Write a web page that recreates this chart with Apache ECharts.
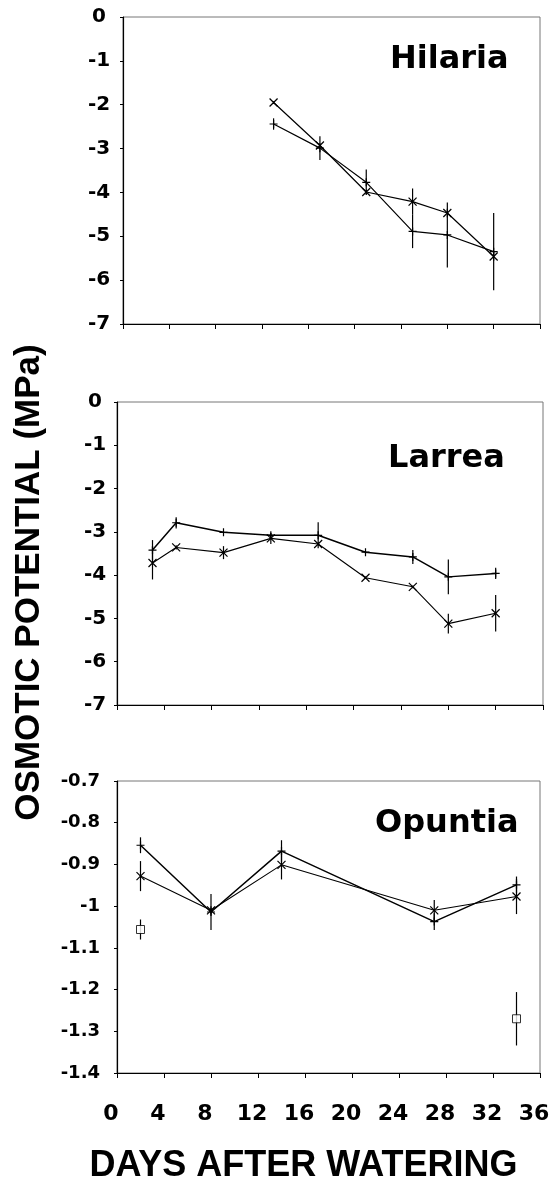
<!DOCTYPE html>
<html>
<head>
<meta charset="utf-8">
<script src="https://cdn.jsdelivr.net/npm/echarts@6/dist/echarts.min.js"></script>
<style>
html,body{margin:0;padding:0;background:#fff;}
#c{width:554px;height:1189px;}
</style>
</head>
<body>
<div id="c"></div>
<script>
// ---------- DATA ----------
const xTicks = [0, 4, 8, 12, 16, 20, 24, 28, 32, 36];

// Hilaria
const hilDays = [13, 17, 21, 25, 28, 32];
const hilPlus = [-2.44, -2.99, -3.77, -4.89, -4.97, -5.35];
const hilPlusErr = [0.13, 0.27, 0.29, 0.38, 0.74, 0.88];
const hilCross = [-1.95, -2.93, -3.99, -4.21, -4.47, -5.46];
const hilCrossErr = [0.03, 0.05, 0.05, 0.30, 0.10, 0.10];

// Larrea
const larDays = [3, 5, 9, 13, 17, 21, 25, 28, 32];
const larPlus = [-3.42, -2.79, -3.01, -3.08, -3.08, -3.47, -3.58, -4.04, -3.96];
const larPlusErr = [0.23, 0.13, 0.02, 0.05, 0.30, 0.03, 0.16, 0.40, 0.13];
const larCross = [-3.72, -3.36, -3.48, -3.15, -3.28, -4.06, -4.27, -5.12, -4.88];
const larCrossErr = [0.38, 0.05, 0.15, 0.13, 0.04, 0.03, 0.03, 0.23, 0.42];

// Opuntia
const opuDays = [2, 8, 14, 27, 34];
const opuPlus = [-0.854, -1.014, -0.868, -1.037, -0.949];
const opuPlusErr = [0.019, 0.043, 0.026, 0.020, 0.020];
const opuCross = [-0.928, -1.010, -0.901, -1.010, -0.977];
const opuCrossErr = [0.036, 0.010, 0.035, 0.025, 0.042];
const opuSqDays = [2, 34];
const opuSq = [-1.056, -1.270];
const opuSqErr = [0.024, 0.064];

const panelTitles = ['Hilaria', 'Larrea', 'Opuntia'];
const yTitle = 'OSMOTIC POTENTIAL (MPa)';
const xTitle = 'DAYS AFTER WATERING';

// ---------- HELPERS ----------
const PLUS = 'path://M0,5L10,5M5,0L5,10';
const CROSS = 'path://M0,0L10,10M10,0L0,10';
const zip = (d, v) => d.map((x, i) => [x, v[i]]);
const zip3 = (d, v, e) => d.map((x, i) => [x, v[i], e[i]]);

function lineSeries(idx, days, vals, sym, lw) {
  return {
    type: 'line', xAxisIndex: idx, yAxisIndex: idx,
    data: zip(days, vals), symbol: sym, symbolSize: 8, showAllSymbol: true,
    lineStyle: {color: '#000', width: lw},
    itemStyle: {color: '#000', borderColor: '#000', borderWidth: 1.2},
    z: 3, silent: true
  };
}
function errSeries(idx, days, vals, errs) {
  return {
    type: 'custom', xAxisIndex: idx, yAxisIndex: idx,
    data: zip3(days, vals, errs), encode: {x: 0, y: 1}, z: 2, silent: true,
    renderItem: function (params, api) {
      const x = api.value(0), y = api.value(1), e = api.value(2);
      const p1 = api.coord([x, y + e]), p2 = api.coord([x, y - e]);
      return {type: 'line', shape: {x1: p1[0], y1: p1[1], x2: p2[0], y2: p2[1]},
              style: {stroke: '#000', lineWidth: 1.2}};
    }
  };
}

const tickFont = '"DejaVu Sans"';
function xAx(idx, showLabels) {
  return {
    type: 'value', gridIndex: idx, min: 0, max: 36, interval: 4,
    axisLine: {show: true, onZero: false, lineStyle: {color: '#000', width: 1}},
    axisTick: {show: true, inside: false, length: 5, lineStyle: {color: '#000'}},
    splitLine: {show: false},
    axisLabel: showLabels ? {
      show: true, margin: 30, color: '#000', fontFamily: tickFont, fontWeight: 'bold', fontSize: 22,
      verticalAlign: 'top', align: 'center', padding: [0, 12, 0, 0]
    } : {show: false}
  };
}
function yAx(idx, min, max, interval, labelOpt) {
  return {
    type: 'value', gridIndex: idx, min: min, max: max, interval: interval,
    axisLine: {show: true, lineStyle: {color: '#000', width: 1.2}},
    axisTick: {show: true, inside: false, length: 3, lineStyle: {color: '#000'}},
    splitLine: {show: false},
    axisLabel: Object.assign({color: '#000', fontFamily: tickFont, fontWeight: 'bold'}, labelOpt)
  };
}

const chart = echarts.init(document.getElementById('c'), null, {renderer: 'canvas'});
const option = {
  animation: false,
  backgroundColor: '#fff',
  grid: [
    {left: 123, top: 17, width: 417, height: 307, show: true, borderColor: '#777', borderWidth: 1, backgroundColor: 'transparent'},
    {left: 117, top: 402, width: 426, height: 303, show: true, borderColor: '#777', borderWidth: 1, backgroundColor: 'transparent'},
    {left: 117, top: 781, width: 423, height: 292, show: true, borderColor: '#777', borderWidth: 1, backgroundColor: 'transparent'}
  ],
  xAxis: [xAx(0, false), xAx(1, false), xAx(2, true)],
  yAxis: [
    yAx(0, -7, 0, 1, {fontSize: 20, align: 'center', margin: 24}),
    yAx(1, -7, 0, 1, {fontSize: 20, align: 'center', margin: 22}),
    yAx(2, -1.4, -0.7, 0.1, {fontSize: 18, align: 'right', margin: 17})
  ],
  series: [
    errSeries(0, hilDays, hilPlus, hilPlusErr),
    errSeries(0, hilDays, hilCross, hilCrossErr),
    lineSeries(0, hilDays, hilPlus, PLUS, 1.2),
    lineSeries(0, hilDays, hilCross, CROSS, 1.2),

    errSeries(1, larDays, larPlus, larPlusErr),
    errSeries(1, larDays, larCross, larCrossErr),
    lineSeries(1, larDays, larPlus, PLUS, 1.5),
    lineSeries(1, larDays, larCross, CROSS, 1.1),

    errSeries(2, opuDays, opuPlus, opuPlusErr),
    errSeries(2, opuDays, opuCross, opuCrossErr),
    lineSeries(2, opuDays, opuPlus, PLUS, 1.5),
    lineSeries(2, opuDays, opuCross, CROSS, 1.1),
    errSeries(2, opuSqDays, opuSq, opuSqErr),
    {
      type: 'scatter', xAxisIndex: 2, yAxisIndex: 2, data: zip(opuSqDays, opuSq),
      symbol: 'rect', symbolSize: 8, z: 4, silent: true,
      itemStyle: {color: '#fff', borderColor: '#000', borderWidth: 1}
    }
  ],
  graphic: [
    {type: 'text', x: 390, y: 60, style: {text: panelTitles[0], font: 'bold 32px "DejaVu Sans"', fill: '#000', align: 'left', verticalAlign: 'middle'}},
    {type: 'text', x: 388, y: 459, style: {text: panelTitles[1], font: 'bold 32px "DejaVu Sans"', fill: '#000', align: 'left', verticalAlign: 'middle'}},
    {type: 'text', x: 375, y: 824, style: {text: panelTitles[2], font: 'bold 32px "DejaVu Sans"', fill: '#000', align: 'left', verticalAlign: 'middle'}},
    {type: 'text', x: 29.5, y: 582.5, rotation: Math.PI / 2, style: {text: yTitle, font: 'bold 35px "Liberation Sans"', fill: '#000', align: 'center', verticalAlign: 'middle'}},
    {type: 'text', x: 303.5, y: 1166, style: {text: xTitle, font: 'bold 36px "Liberation Sans"', fill: '#000', align: 'center', verticalAlign: 'middle'}}
  ]
};
chart.setOption(option);
</script>
</body>
</html>
